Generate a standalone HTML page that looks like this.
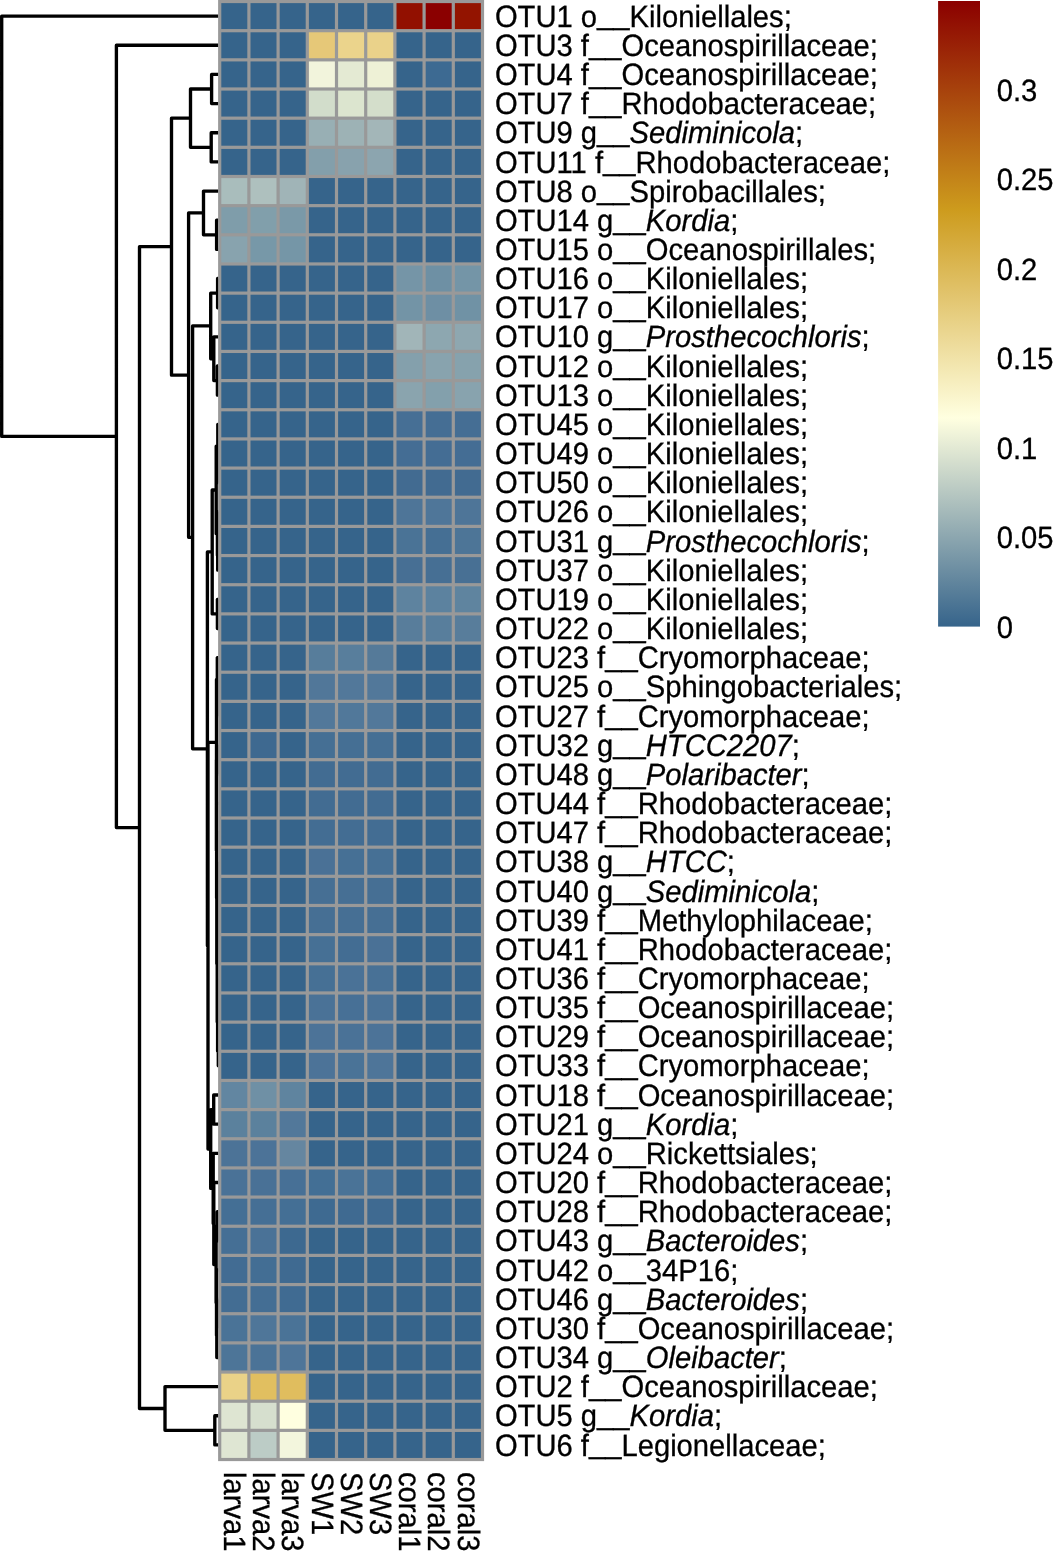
<!DOCTYPE html>
<html><head><meta charset="utf-8"><style>
html,body{margin:0;padding:0;background:#fff;}
body{width:1053px;height:1551px;overflow:hidden;position:relative;}
svg{position:absolute;left:0;top:0;will-change:transform;}
text{font-family:"Liberation Sans",sans-serif;font-size:29.20px;fill:#000;stroke:#000;stroke-width:0.3px;text-rendering:geometricPrecision;}
</style></head><body>
<svg width="1053" height="1551" viewBox="0 0 1053 1551">
<path d="M218.50 74.42H211.60V103.58H218.50M218.50 132.74H211.20V161.90H218.50M211.60 89.00H190.50V147.32H211.20M218.50 220.22H216.60V249.38H218.50M218.50 191.06H203.50V234.80H216.60M218.50 278.54H217.60V307.70H218.50M218.50 366.02H217.40V395.18H218.50M218.50 336.86H213.80V380.60H217.40M217.60 293.12H210.70V358.73H213.80M218.50 453.50H218.30V482.66H218.50M218.50 424.34H217.80V468.08H218.30M218.50 540.98H217.70V570.14H218.50M218.50 511.82H217.40V555.56H217.70M217.80 446.21H216.20V533.69H217.40M218.50 599.30H217.40V628.46H218.50M216.20 489.95H212.20V613.88H217.40M218.50 686.78H218.00V715.94H218.50M218.50 657.62H217.30V701.36H218.00M218.50 745.10H217.80V774.26H218.50M218.50 861.74H218.30V890.90H218.50M218.50 920.06H218.30V949.22H218.50M218.30 876.32H217.80V934.64H218.30M218.50 978.38H218.30V1007.54H218.50M218.50 1036.70H218.30V1065.86H218.50M218.30 992.96H217.60V1051.28H218.30M217.80 905.48H217.20V1022.12H217.60M218.50 832.58H216.80V963.80H217.20M218.50 803.42H216.60V898.19H216.80M217.80 759.68H216.40V850.81H216.60M217.30 679.49H216.50V805.24H216.40M218.50 1095.02H213.70V1124.18H218.50M218.50 1211.66H217.30V1240.82H218.50M218.50 1299.14H217.40V1328.30H218.50M217.40 1313.72H216.80V1357.46H218.50M218.50 1269.98H216.50V1335.59H216.80M217.30 1226.24H216.10V1302.79H216.50M218.50 1182.50H213.80V1264.51H216.10M218.50 1153.34H213.20V1223.51H213.80M213.70 1109.60H210.70V1188.42H213.20M216.50 742.37H208.00V1149.01H210.70M212.20 551.91H207.40V945.69H208.00M210.70 325.93H192.60V748.80H207.40M203.50 212.93H188.60V537.36H192.60M190.50 118.16H171.50V375.15H188.60M218.50 1415.78H214.80V1444.94H218.50M218.50 1386.62H165.00V1430.36H214.80M171.50 246.65H139.50V1408.49H165.00M218.50 45.26H116.40V827.57H139.50M218.50 16.10H1.70V436.42H116.40" fill="none" stroke="#000" stroke-width="3.35" stroke-linejoin="round" stroke-linecap="butt"/>
<rect x="218.10" y="-0.08" width="266.00" height="1461.20" fill="#999999"/>
<rect x="221.30" y="3.12" width="26.00" height="25.96" fill="#36648B"/><rect x="250.50" y="3.12" width="26.00" height="25.96" fill="#36648B"/><rect x="279.70" y="3.12" width="26.00" height="25.96" fill="#36648B"/><rect x="308.90" y="3.12" width="26.00" height="25.96" fill="#36648B"/><rect x="338.10" y="3.12" width="26.00" height="25.96" fill="#36648B"/><rect x="367.30" y="3.12" width="26.00" height="25.96" fill="#36648B"/><rect x="396.50" y="3.12" width="26.00" height="25.96" fill="#921000"/><rect x="425.70" y="3.12" width="26.00" height="25.96" fill="#8B0000"/><rect x="454.90" y="3.12" width="26.00" height="25.96" fill="#931400"/>
<rect x="221.30" y="32.28" width="26.00" height="25.96" fill="#36648B"/><rect x="250.50" y="32.28" width="26.00" height="25.96" fill="#36648B"/><rect x="279.70" y="32.28" width="26.00" height="25.96" fill="#36648B"/><rect x="308.90" y="32.28" width="26.00" height="25.96" fill="#E6C878"/><rect x="338.10" y="32.28" width="26.00" height="25.96" fill="#EBD48C"/><rect x="367.30" y="32.28" width="26.00" height="25.96" fill="#EAD28A"/><rect x="396.50" y="32.28" width="26.00" height="25.96" fill="#36648B"/><rect x="425.70" y="32.28" width="26.00" height="25.96" fill="#36648B"/><rect x="454.90" y="32.28" width="26.00" height="25.96" fill="#36648B"/>
<rect x="221.30" y="61.44" width="26.00" height="25.96" fill="#36648B"/><rect x="250.50" y="61.44" width="26.00" height="25.96" fill="#36648B"/><rect x="279.70" y="61.44" width="26.00" height="25.96" fill="#36648B"/><rect x="308.90" y="61.44" width="26.00" height="25.96" fill="#F2F4DC"/><rect x="338.10" y="61.44" width="26.00" height="25.96" fill="#E4EAD3"/><rect x="367.30" y="61.44" width="26.00" height="25.96" fill="#EEF1D6"/><rect x="396.50" y="61.44" width="26.00" height="25.96" fill="#36648B"/><rect x="425.70" y="61.44" width="26.00" height="25.96" fill="#3D6A92"/><rect x="454.90" y="61.44" width="26.00" height="25.96" fill="#36648B"/>
<rect x="221.30" y="90.60" width="26.00" height="25.96" fill="#36648B"/><rect x="250.50" y="90.60" width="26.00" height="25.96" fill="#36648B"/><rect x="279.70" y="90.60" width="26.00" height="25.96" fill="#36648B"/><rect x="308.90" y="90.60" width="26.00" height="25.96" fill="#D2DDCB"/><rect x="338.10" y="90.60" width="26.00" height="25.96" fill="#DCE5CF"/><rect x="367.30" y="90.60" width="26.00" height="25.96" fill="#D4DECB"/><rect x="396.50" y="90.60" width="26.00" height="25.96" fill="#36648B"/><rect x="425.70" y="90.60" width="26.00" height="25.96" fill="#36648B"/><rect x="454.90" y="90.60" width="26.00" height="25.96" fill="#36648B"/>
<rect x="221.30" y="119.76" width="26.00" height="25.96" fill="#36648B"/><rect x="250.50" y="119.76" width="26.00" height="25.96" fill="#36648B"/><rect x="279.70" y="119.76" width="26.00" height="25.96" fill="#36648B"/><rect x="308.90" y="119.76" width="26.00" height="25.96" fill="#98AFB4"/><rect x="338.10" y="119.76" width="26.00" height="25.96" fill="#9DB2B5"/><rect x="367.30" y="119.76" width="26.00" height="25.96" fill="#A3B6B8"/><rect x="396.50" y="119.76" width="26.00" height="25.96" fill="#36648B"/><rect x="425.70" y="119.76" width="26.00" height="25.96" fill="#36648B"/><rect x="454.90" y="119.76" width="26.00" height="25.96" fill="#36648B"/>
<rect x="221.30" y="148.92" width="26.00" height="25.96" fill="#36648B"/><rect x="250.50" y="148.92" width="26.00" height="25.96" fill="#36648B"/><rect x="279.70" y="148.92" width="26.00" height="25.96" fill="#36648B"/><rect x="308.90" y="148.92" width="26.00" height="25.96" fill="#839FAB"/><rect x="338.10" y="148.92" width="26.00" height="25.96" fill="#88A2AD"/><rect x="367.30" y="148.92" width="26.00" height="25.96" fill="#8CA5AF"/><rect x="396.50" y="148.92" width="26.00" height="25.96" fill="#36648B"/><rect x="425.70" y="148.92" width="26.00" height="25.96" fill="#36648B"/><rect x="454.90" y="148.92" width="26.00" height="25.96" fill="#36648B"/>
<rect x="221.30" y="178.08" width="26.00" height="25.96" fill="#A9BDBC"/><rect x="250.50" y="178.08" width="26.00" height="25.96" fill="#AEC0BE"/><rect x="279.70" y="178.08" width="26.00" height="25.96" fill="#A0B4B7"/><rect x="308.90" y="178.08" width="26.00" height="25.96" fill="#36648B"/><rect x="338.10" y="178.08" width="26.00" height="25.96" fill="#36648B"/><rect x="367.30" y="178.08" width="26.00" height="25.96" fill="#36648B"/><rect x="396.50" y="178.08" width="26.00" height="25.96" fill="#36648B"/><rect x="425.70" y="178.08" width="26.00" height="25.96" fill="#36648B"/><rect x="454.90" y="178.08" width="26.00" height="25.96" fill="#36648B"/>
<rect x="221.30" y="207.24" width="26.00" height="25.96" fill="#7F9DAA"/><rect x="250.50" y="207.24" width="26.00" height="25.96" fill="#819FAB"/><rect x="279.70" y="207.24" width="26.00" height="25.96" fill="#7A99A8"/><rect x="308.90" y="207.24" width="26.00" height="25.96" fill="#36648B"/><rect x="338.10" y="207.24" width="26.00" height="25.96" fill="#36648B"/><rect x="367.30" y="207.24" width="26.00" height="25.96" fill="#36648B"/><rect x="396.50" y="207.24" width="26.00" height="25.96" fill="#36648B"/><rect x="425.70" y="207.24" width="26.00" height="25.96" fill="#36648B"/><rect x="454.90" y="207.24" width="26.00" height="25.96" fill="#36648B"/>
<rect x="221.30" y="236.40" width="26.00" height="25.96" fill="#88A3AE"/><rect x="250.50" y="236.40" width="26.00" height="25.96" fill="#7798A8"/><rect x="279.70" y="236.40" width="26.00" height="25.96" fill="#7596A7"/><rect x="308.90" y="236.40" width="26.00" height="25.96" fill="#36648B"/><rect x="338.10" y="236.40" width="26.00" height="25.96" fill="#36648B"/><rect x="367.30" y="236.40" width="26.00" height="25.96" fill="#36648B"/><rect x="396.50" y="236.40" width="26.00" height="25.96" fill="#36648B"/><rect x="425.70" y="236.40" width="26.00" height="25.96" fill="#36648B"/><rect x="454.90" y="236.40" width="26.00" height="25.96" fill="#36648B"/>
<rect x="221.30" y="265.56" width="26.00" height="25.96" fill="#36648B"/><rect x="250.50" y="265.56" width="26.00" height="25.96" fill="#36648B"/><rect x="279.70" y="265.56" width="26.00" height="25.96" fill="#36648B"/><rect x="308.90" y="265.56" width="26.00" height="25.96" fill="#36648B"/><rect x="338.10" y="265.56" width="26.00" height="25.96" fill="#36648B"/><rect x="367.30" y="265.56" width="26.00" height="25.96" fill="#36648B"/><rect x="396.50" y="265.56" width="26.00" height="25.96" fill="#7595A7"/><rect x="425.70" y="265.56" width="26.00" height="25.96" fill="#6E90A4"/><rect x="454.90" y="265.56" width="26.00" height="25.96" fill="#7495A7"/>
<rect x="221.30" y="294.72" width="26.00" height="25.96" fill="#36648B"/><rect x="250.50" y="294.72" width="26.00" height="25.96" fill="#36648B"/><rect x="279.70" y="294.72" width="26.00" height="25.96" fill="#36648B"/><rect x="308.90" y="294.72" width="26.00" height="25.96" fill="#36648B"/><rect x="338.10" y="294.72" width="26.00" height="25.96" fill="#36648B"/><rect x="367.30" y="294.72" width="26.00" height="25.96" fill="#36648B"/><rect x="396.50" y="294.72" width="26.00" height="25.96" fill="#7394A6"/><rect x="425.70" y="294.72" width="26.00" height="25.96" fill="#6E8FA4"/><rect x="454.90" y="294.72" width="26.00" height="25.96" fill="#7092A5"/>
<rect x="221.30" y="323.88" width="26.00" height="25.96" fill="#36648B"/><rect x="250.50" y="323.88" width="26.00" height="25.96" fill="#36648B"/><rect x="279.70" y="323.88" width="26.00" height="25.96" fill="#36648B"/><rect x="308.90" y="323.88" width="26.00" height="25.96" fill="#36648B"/><rect x="338.10" y="323.88" width="26.00" height="25.96" fill="#36648B"/><rect x="367.30" y="323.88" width="26.00" height="25.96" fill="#36648B"/><rect x="396.50" y="323.88" width="26.00" height="25.96" fill="#A1B5B8"/><rect x="425.70" y="323.88" width="26.00" height="25.96" fill="#8DA7B0"/><rect x="454.90" y="323.88" width="26.00" height="25.96" fill="#8EA7B0"/>
<rect x="221.30" y="353.04" width="26.00" height="25.96" fill="#36648B"/><rect x="250.50" y="353.04" width="26.00" height="25.96" fill="#36648B"/><rect x="279.70" y="353.04" width="26.00" height="25.96" fill="#36648B"/><rect x="308.90" y="353.04" width="26.00" height="25.96" fill="#36648B"/><rect x="338.10" y="353.04" width="26.00" height="25.96" fill="#36648B"/><rect x="367.30" y="353.04" width="26.00" height="25.96" fill="#36648B"/><rect x="396.50" y="353.04" width="26.00" height="25.96" fill="#84A0AC"/><rect x="425.70" y="353.04" width="26.00" height="25.96" fill="#88A3AE"/><rect x="454.90" y="353.04" width="26.00" height="25.96" fill="#86A2AD"/>
<rect x="221.30" y="382.20" width="26.00" height="25.96" fill="#36648B"/><rect x="250.50" y="382.20" width="26.00" height="25.96" fill="#36648B"/><rect x="279.70" y="382.20" width="26.00" height="25.96" fill="#36648B"/><rect x="308.90" y="382.20" width="26.00" height="25.96" fill="#36648B"/><rect x="338.10" y="382.20" width="26.00" height="25.96" fill="#36648B"/><rect x="367.30" y="382.20" width="26.00" height="25.96" fill="#36648B"/><rect x="396.50" y="382.20" width="26.00" height="25.96" fill="#8AA4AE"/><rect x="425.70" y="382.20" width="26.00" height="25.96" fill="#83A0AC"/><rect x="454.90" y="382.20" width="26.00" height="25.96" fill="#88A3AE"/>
<rect x="221.30" y="411.36" width="26.00" height="25.96" fill="#36648B"/><rect x="250.50" y="411.36" width="26.00" height="25.96" fill="#36648B"/><rect x="279.70" y="411.36" width="26.00" height="25.96" fill="#36648B"/><rect x="308.90" y="411.36" width="26.00" height="25.96" fill="#36648B"/><rect x="338.10" y="411.36" width="26.00" height="25.96" fill="#36648B"/><rect x="367.30" y="411.36" width="26.00" height="25.96" fill="#36648B"/><rect x="396.50" y="411.36" width="26.00" height="25.96" fill="#466F95"/><rect x="425.70" y="411.36" width="26.00" height="25.96" fill="#456E94"/><rect x="454.90" y="411.36" width="26.00" height="25.96" fill="#456E94"/>
<rect x="221.30" y="440.52" width="26.00" height="25.96" fill="#36648B"/><rect x="250.50" y="440.52" width="26.00" height="25.96" fill="#36648B"/><rect x="279.70" y="440.52" width="26.00" height="25.96" fill="#36648B"/><rect x="308.90" y="440.52" width="26.00" height="25.96" fill="#36648B"/><rect x="338.10" y="440.52" width="26.00" height="25.96" fill="#36648B"/><rect x="367.30" y="440.52" width="26.00" height="25.96" fill="#36648B"/><rect x="396.50" y="440.52" width="26.00" height="25.96" fill="#446D94"/><rect x="425.70" y="440.52" width="26.00" height="25.96" fill="#446D94"/><rect x="454.90" y="440.52" width="26.00" height="25.96" fill="#446D94"/>
<rect x="221.30" y="469.68" width="26.00" height="25.96" fill="#36648B"/><rect x="250.50" y="469.68" width="26.00" height="25.96" fill="#36648B"/><rect x="279.70" y="469.68" width="26.00" height="25.96" fill="#36648B"/><rect x="308.90" y="469.68" width="26.00" height="25.96" fill="#36648B"/><rect x="338.10" y="469.68" width="26.00" height="25.96" fill="#36648B"/><rect x="367.30" y="469.68" width="26.00" height="25.96" fill="#36648B"/><rect x="396.50" y="469.68" width="26.00" height="25.96" fill="#426B91"/><rect x="425.70" y="469.68" width="26.00" height="25.96" fill="#426B91"/><rect x="454.90" y="469.68" width="26.00" height="25.96" fill="#426B91"/>
<rect x="221.30" y="498.84" width="26.00" height="25.96" fill="#36648B"/><rect x="250.50" y="498.84" width="26.00" height="25.96" fill="#36648B"/><rect x="279.70" y="498.84" width="26.00" height="25.96" fill="#36648B"/><rect x="308.90" y="498.84" width="26.00" height="25.96" fill="#36648B"/><rect x="338.10" y="498.84" width="26.00" height="25.96" fill="#36648B"/><rect x="367.30" y="498.84" width="26.00" height="25.96" fill="#36648B"/><rect x="396.50" y="498.84" width="26.00" height="25.96" fill="#4E7598"/><rect x="425.70" y="498.84" width="26.00" height="25.96" fill="#4F7699"/><rect x="454.90" y="498.84" width="26.00" height="25.96" fill="#4E7598"/>
<rect x="221.30" y="528.00" width="26.00" height="25.96" fill="#36648B"/><rect x="250.50" y="528.00" width="26.00" height="25.96" fill="#36648B"/><rect x="279.70" y="528.00" width="26.00" height="25.96" fill="#36648B"/><rect x="308.90" y="528.00" width="26.00" height="25.96" fill="#36648B"/><rect x="338.10" y="528.00" width="26.00" height="25.96" fill="#36648B"/><rect x="367.30" y="528.00" width="26.00" height="25.96" fill="#36648B"/><rect x="396.50" y="528.00" width="26.00" height="25.96" fill="#4A7396"/><rect x="425.70" y="528.00" width="26.00" height="25.96" fill="#456F94"/><rect x="454.90" y="528.00" width="26.00" height="25.96" fill="#4D7597"/>
<rect x="221.30" y="557.16" width="26.00" height="25.96" fill="#36648B"/><rect x="250.50" y="557.16" width="26.00" height="25.96" fill="#36648B"/><rect x="279.70" y="557.16" width="26.00" height="25.96" fill="#36648B"/><rect x="308.90" y="557.16" width="26.00" height="25.96" fill="#36648B"/><rect x="338.10" y="557.16" width="26.00" height="25.96" fill="#36648B"/><rect x="367.30" y="557.16" width="26.00" height="25.96" fill="#36648B"/><rect x="396.50" y="557.16" width="26.00" height="25.96" fill="#476F94"/><rect x="425.70" y="557.16" width="26.00" height="25.96" fill="#466F94"/><rect x="454.90" y="557.16" width="26.00" height="25.96" fill="#487094"/>
<rect x="221.30" y="586.32" width="26.00" height="25.96" fill="#36648B"/><rect x="250.50" y="586.32" width="26.00" height="25.96" fill="#36648B"/><rect x="279.70" y="586.32" width="26.00" height="25.96" fill="#36648B"/><rect x="308.90" y="586.32" width="26.00" height="25.96" fill="#36648B"/><rect x="338.10" y="586.32" width="26.00" height="25.96" fill="#36648B"/><rect x="367.30" y="586.32" width="26.00" height="25.96" fill="#36648B"/><rect x="396.50" y="586.32" width="26.00" height="25.96" fill="#5E839F"/><rect x="425.70" y="586.32" width="26.00" height="25.96" fill="#5C829F"/><rect x="454.90" y="586.32" width="26.00" height="25.96" fill="#5F849F"/>
<rect x="221.30" y="615.48" width="26.00" height="25.96" fill="#36648B"/><rect x="250.50" y="615.48" width="26.00" height="25.96" fill="#36648B"/><rect x="279.70" y="615.48" width="26.00" height="25.96" fill="#36648B"/><rect x="308.90" y="615.48" width="26.00" height="25.96" fill="#36648B"/><rect x="338.10" y="615.48" width="26.00" height="25.96" fill="#36648B"/><rect x="367.30" y="615.48" width="26.00" height="25.96" fill="#36648B"/><rect x="396.50" y="615.48" width="26.00" height="25.96" fill="#587D9B"/><rect x="425.70" y="615.48" width="26.00" height="25.96" fill="#587E9C"/><rect x="454.90" y="615.48" width="26.00" height="25.96" fill="#587D9B"/>
<rect x="221.30" y="644.64" width="26.00" height="25.96" fill="#36648B"/><rect x="250.50" y="644.64" width="26.00" height="25.96" fill="#36648B"/><rect x="279.70" y="644.64" width="26.00" height="25.96" fill="#36648B"/><rect x="308.90" y="644.64" width="26.00" height="25.96" fill="#577D9B"/><rect x="338.10" y="644.64" width="26.00" height="25.96" fill="#587E9C"/><rect x="367.30" y="644.64" width="26.00" height="25.96" fill="#557A99"/><rect x="396.50" y="644.64" width="26.00" height="25.96" fill="#36648B"/><rect x="425.70" y="644.64" width="26.00" height="25.96" fill="#36648B"/><rect x="454.90" y="644.64" width="26.00" height="25.96" fill="#36648B"/>
<rect x="221.30" y="673.80" width="26.00" height="25.96" fill="#36648B"/><rect x="250.50" y="673.80" width="26.00" height="25.96" fill="#36648B"/><rect x="279.70" y="673.80" width="26.00" height="25.96" fill="#36648B"/><rect x="308.90" y="673.80" width="26.00" height="25.96" fill="#517799"/><rect x="338.10" y="673.80" width="26.00" height="25.96" fill="#52789A"/><rect x="367.30" y="673.80" width="26.00" height="25.96" fill="#52789A"/><rect x="396.50" y="673.80" width="26.00" height="25.96" fill="#36648B"/><rect x="425.70" y="673.80" width="26.00" height="25.96" fill="#36648B"/><rect x="454.90" y="673.80" width="26.00" height="25.96" fill="#36648B"/>
<rect x="221.30" y="702.96" width="26.00" height="25.96" fill="#36648B"/><rect x="250.50" y="702.96" width="26.00" height="25.96" fill="#36648B"/><rect x="279.70" y="702.96" width="26.00" height="25.96" fill="#36648B"/><rect x="308.90" y="702.96" width="26.00" height="25.96" fill="#52789A"/><rect x="338.10" y="702.96" width="26.00" height="25.96" fill="#51789A"/><rect x="367.30" y="702.96" width="26.00" height="25.96" fill="#52789A"/><rect x="396.50" y="702.96" width="26.00" height="25.96" fill="#36648B"/><rect x="425.70" y="702.96" width="26.00" height="25.96" fill="#36648B"/><rect x="454.90" y="702.96" width="26.00" height="25.96" fill="#36648B"/>
<rect x="221.30" y="732.12" width="26.00" height="25.96" fill="#36648B"/><rect x="250.50" y="732.12" width="26.00" height="25.96" fill="#3E6990"/><rect x="279.70" y="732.12" width="26.00" height="25.96" fill="#36648B"/><rect x="308.90" y="732.12" width="26.00" height="25.96" fill="#456F94"/><rect x="338.10" y="732.12" width="26.00" height="25.96" fill="#456F94"/><rect x="367.30" y="732.12" width="26.00" height="25.96" fill="#456F94"/><rect x="396.50" y="732.12" width="26.00" height="25.96" fill="#36648B"/><rect x="425.70" y="732.12" width="26.00" height="25.96" fill="#36648B"/><rect x="454.90" y="732.12" width="26.00" height="25.96" fill="#36648B"/>
<rect x="221.30" y="761.28" width="26.00" height="25.96" fill="#36648B"/><rect x="250.50" y="761.28" width="26.00" height="25.96" fill="#36648B"/><rect x="279.70" y="761.28" width="26.00" height="25.96" fill="#36648B"/><rect x="308.90" y="761.28" width="26.00" height="25.96" fill="#426C92"/><rect x="338.10" y="761.28" width="26.00" height="25.96" fill="#426C92"/><rect x="367.30" y="761.28" width="26.00" height="25.96" fill="#426C92"/><rect x="396.50" y="761.28" width="26.00" height="25.96" fill="#36648B"/><rect x="425.70" y="761.28" width="26.00" height="25.96" fill="#36648B"/><rect x="454.90" y="761.28" width="26.00" height="25.96" fill="#36648B"/>
<rect x="221.30" y="790.44" width="26.00" height="25.96" fill="#36648B"/><rect x="250.50" y="790.44" width="26.00" height="25.96" fill="#36648B"/><rect x="279.70" y="790.44" width="26.00" height="25.96" fill="#36648B"/><rect x="308.90" y="790.44" width="26.00" height="25.96" fill="#426C92"/><rect x="338.10" y="790.44" width="26.00" height="25.96" fill="#426C92"/><rect x="367.30" y="790.44" width="26.00" height="25.96" fill="#426C92"/><rect x="396.50" y="790.44" width="26.00" height="25.96" fill="#36648B"/><rect x="425.70" y="790.44" width="26.00" height="25.96" fill="#36648B"/><rect x="454.90" y="790.44" width="26.00" height="25.96" fill="#36648B"/>
<rect x="221.30" y="819.60" width="26.00" height="25.96" fill="#36648B"/><rect x="250.50" y="819.60" width="26.00" height="25.96" fill="#36648B"/><rect x="279.70" y="819.60" width="26.00" height="25.96" fill="#36648B"/><rect x="308.90" y="819.60" width="26.00" height="25.96" fill="#436D93"/><rect x="338.10" y="819.60" width="26.00" height="25.96" fill="#436D93"/><rect x="367.30" y="819.60" width="26.00" height="25.96" fill="#436D93"/><rect x="396.50" y="819.60" width="26.00" height="25.96" fill="#36648B"/><rect x="425.70" y="819.60" width="26.00" height="25.96" fill="#36648B"/><rect x="454.90" y="819.60" width="26.00" height="25.96" fill="#36648B"/>
<rect x="221.30" y="848.76" width="26.00" height="25.96" fill="#36648B"/><rect x="250.50" y="848.76" width="26.00" height="25.96" fill="#36648B"/><rect x="279.70" y="848.76" width="26.00" height="25.96" fill="#36648B"/><rect x="308.90" y="848.76" width="26.00" height="25.96" fill="#4A7196"/><rect x="338.10" y="848.76" width="26.00" height="25.96" fill="#467095"/><rect x="367.30" y="848.76" width="26.00" height="25.96" fill="#467095"/><rect x="396.50" y="848.76" width="26.00" height="25.96" fill="#36648B"/><rect x="425.70" y="848.76" width="26.00" height="25.96" fill="#36648B"/><rect x="454.90" y="848.76" width="26.00" height="25.96" fill="#36648B"/>
<rect x="221.30" y="877.92" width="26.00" height="25.96" fill="#36648B"/><rect x="250.50" y="877.92" width="26.00" height="25.96" fill="#36648B"/><rect x="279.70" y="877.92" width="26.00" height="25.96" fill="#36648B"/><rect x="308.90" y="877.92" width="26.00" height="25.96" fill="#466F94"/><rect x="338.10" y="877.92" width="26.00" height="25.96" fill="#466F94"/><rect x="367.30" y="877.92" width="26.00" height="25.96" fill="#466F94"/><rect x="396.50" y="877.92" width="26.00" height="25.96" fill="#36648B"/><rect x="425.70" y="877.92" width="26.00" height="25.96" fill="#36648B"/><rect x="454.90" y="877.92" width="26.00" height="25.96" fill="#36648B"/>
<rect x="221.30" y="907.08" width="26.00" height="25.96" fill="#36648B"/><rect x="250.50" y="907.08" width="26.00" height="25.96" fill="#36648B"/><rect x="279.70" y="907.08" width="26.00" height="25.96" fill="#36648B"/><rect x="308.90" y="907.08" width="26.00" height="25.96" fill="#466F94"/><rect x="338.10" y="907.08" width="26.00" height="25.96" fill="#466F94"/><rect x="367.30" y="907.08" width="26.00" height="25.96" fill="#466F94"/><rect x="396.50" y="907.08" width="26.00" height="25.96" fill="#36648B"/><rect x="425.70" y="907.08" width="26.00" height="25.96" fill="#36648B"/><rect x="454.90" y="907.08" width="26.00" height="25.96" fill="#36648B"/>
<rect x="221.30" y="936.24" width="26.00" height="25.96" fill="#36648B"/><rect x="250.50" y="936.24" width="26.00" height="25.96" fill="#36648B"/><rect x="279.70" y="936.24" width="26.00" height="25.96" fill="#36648B"/><rect x="308.90" y="936.24" width="26.00" height="25.96" fill="#467095"/><rect x="338.10" y="936.24" width="26.00" height="25.96" fill="#436D93"/><rect x="367.30" y="936.24" width="26.00" height="25.96" fill="#4A7196"/><rect x="396.50" y="936.24" width="26.00" height="25.96" fill="#36648B"/><rect x="425.70" y="936.24" width="26.00" height="25.96" fill="#36648B"/><rect x="454.90" y="936.24" width="26.00" height="25.96" fill="#36648B"/>
<rect x="221.30" y="965.40" width="26.00" height="25.96" fill="#36648B"/><rect x="250.50" y="965.40" width="26.00" height="25.96" fill="#36648B"/><rect x="279.70" y="965.40" width="26.00" height="25.96" fill="#36648B"/><rect x="308.90" y="965.40" width="26.00" height="25.96" fill="#467095"/><rect x="338.10" y="965.40" width="26.00" height="25.96" fill="#4A7297"/><rect x="367.30" y="965.40" width="26.00" height="25.96" fill="#487196"/><rect x="396.50" y="965.40" width="26.00" height="25.96" fill="#36648B"/><rect x="425.70" y="965.40" width="26.00" height="25.96" fill="#36648B"/><rect x="454.90" y="965.40" width="26.00" height="25.96" fill="#36648B"/>
<rect x="221.30" y="994.56" width="26.00" height="25.96" fill="#36648B"/><rect x="250.50" y="994.56" width="26.00" height="25.96" fill="#36648B"/><rect x="279.70" y="994.56" width="26.00" height="25.96" fill="#36648B"/><rect x="308.90" y="994.56" width="26.00" height="25.96" fill="#4A7297"/><rect x="338.10" y="994.56" width="26.00" height="25.96" fill="#477096"/><rect x="367.30" y="994.56" width="26.00" height="25.96" fill="#4A7297"/><rect x="396.50" y="994.56" width="26.00" height="25.96" fill="#36648B"/><rect x="425.70" y="994.56" width="26.00" height="25.96" fill="#36648B"/><rect x="454.90" y="994.56" width="26.00" height="25.96" fill="#36648B"/>
<rect x="221.30" y="1023.72" width="26.00" height="25.96" fill="#36648B"/><rect x="250.50" y="1023.72" width="26.00" height="25.96" fill="#36648B"/><rect x="279.70" y="1023.72" width="26.00" height="25.96" fill="#36648B"/><rect x="308.90" y="1023.72" width="26.00" height="25.96" fill="#4C7398"/><rect x="338.10" y="1023.72" width="26.00" height="25.96" fill="#4A7297"/><rect x="367.30" y="1023.72" width="26.00" height="25.96" fill="#4C7398"/><rect x="396.50" y="1023.72" width="26.00" height="25.96" fill="#36648B"/><rect x="425.70" y="1023.72" width="26.00" height="25.96" fill="#36648B"/><rect x="454.90" y="1023.72" width="26.00" height="25.96" fill="#36648B"/>
<rect x="221.30" y="1052.88" width="26.00" height="25.96" fill="#36648B"/><rect x="250.50" y="1052.88" width="26.00" height="25.96" fill="#36648B"/><rect x="279.70" y="1052.88" width="26.00" height="25.96" fill="#36648B"/><rect x="308.90" y="1052.88" width="26.00" height="25.96" fill="#4C7398"/><rect x="338.10" y="1052.88" width="26.00" height="25.96" fill="#4A7397"/><rect x="367.30" y="1052.88" width="26.00" height="25.96" fill="#4E7599"/><rect x="396.50" y="1052.88" width="26.00" height="25.96" fill="#36648B"/><rect x="425.70" y="1052.88" width="26.00" height="25.96" fill="#36648B"/><rect x="454.90" y="1052.88" width="26.00" height="25.96" fill="#36648B"/>
<rect x="221.30" y="1082.04" width="26.00" height="25.96" fill="#6286A1"/><rect x="250.50" y="1082.04" width="26.00" height="25.96" fill="#6F90A5"/><rect x="279.70" y="1082.04" width="26.00" height="25.96" fill="#5F849F"/><rect x="308.90" y="1082.04" width="26.00" height="25.96" fill="#36648B"/><rect x="338.10" y="1082.04" width="26.00" height="25.96" fill="#36648B"/><rect x="367.30" y="1082.04" width="26.00" height="25.96" fill="#36648B"/><rect x="396.50" y="1082.04" width="26.00" height="25.96" fill="#36648B"/><rect x="425.70" y="1082.04" width="26.00" height="25.96" fill="#36648B"/><rect x="454.90" y="1082.04" width="26.00" height="25.96" fill="#36648B"/>
<rect x="221.30" y="1111.20" width="26.00" height="25.96" fill="#5B819D"/><rect x="250.50" y="1111.20" width="26.00" height="25.96" fill="#5B819D"/><rect x="279.70" y="1111.20" width="26.00" height="25.96" fill="#52789A"/><rect x="308.90" y="1111.20" width="26.00" height="25.96" fill="#36648B"/><rect x="338.10" y="1111.20" width="26.00" height="25.96" fill="#36648B"/><rect x="367.30" y="1111.20" width="26.00" height="25.96" fill="#36648B"/><rect x="396.50" y="1111.20" width="26.00" height="25.96" fill="#36648B"/><rect x="425.70" y="1111.20" width="26.00" height="25.96" fill="#36648B"/><rect x="454.90" y="1111.20" width="26.00" height="25.96" fill="#36648B"/>
<rect x="221.30" y="1140.36" width="26.00" height="25.96" fill="#4C7397"/><rect x="250.50" y="1140.36" width="26.00" height="25.96" fill="#4C7398"/><rect x="279.70" y="1140.36" width="26.00" height="25.96" fill="#6586A0"/><rect x="308.90" y="1140.36" width="26.00" height="25.96" fill="#36648B"/><rect x="338.10" y="1140.36" width="26.00" height="25.96" fill="#36648B"/><rect x="367.30" y="1140.36" width="26.00" height="25.96" fill="#36648B"/><rect x="396.50" y="1140.36" width="26.00" height="25.96" fill="#36648B"/><rect x="425.70" y="1140.36" width="26.00" height="25.96" fill="#36648B"/><rect x="454.90" y="1140.36" width="26.00" height="25.96" fill="#36648B"/>
<rect x="221.30" y="1169.52" width="26.00" height="25.96" fill="#4A7297"/><rect x="250.50" y="1169.52" width="26.00" height="25.96" fill="#497196"/><rect x="279.70" y="1169.52" width="26.00" height="25.96" fill="#477096"/><rect x="308.90" y="1169.52" width="26.00" height="25.96" fill="#436F95"/><rect x="338.10" y="1169.52" width="26.00" height="25.96" fill="#4A7397"/><rect x="367.30" y="1169.52" width="26.00" height="25.96" fill="#446F95"/><rect x="396.50" y="1169.52" width="26.00" height="25.96" fill="#36648B"/><rect x="425.70" y="1169.52" width="26.00" height="25.96" fill="#36648B"/><rect x="454.90" y="1169.52" width="26.00" height="25.96" fill="#36648B"/>
<rect x="221.30" y="1198.68" width="26.00" height="25.96" fill="#446F95"/><rect x="250.50" y="1198.68" width="26.00" height="25.96" fill="#456F95"/><rect x="279.70" y="1198.68" width="26.00" height="25.96" fill="#446F95"/><rect x="308.90" y="1198.68" width="26.00" height="25.96" fill="#3E6A91"/><rect x="338.10" y="1198.68" width="26.00" height="25.96" fill="#3F6A91"/><rect x="367.30" y="1198.68" width="26.00" height="25.96" fill="#3F6A91"/><rect x="396.50" y="1198.68" width="26.00" height="25.96" fill="#36648B"/><rect x="425.70" y="1198.68" width="26.00" height="25.96" fill="#36648B"/><rect x="454.90" y="1198.68" width="26.00" height="25.96" fill="#36648B"/>
<rect x="221.30" y="1227.84" width="26.00" height="25.96" fill="#456F95"/><rect x="250.50" y="1227.84" width="26.00" height="25.96" fill="#4A7297"/><rect x="279.70" y="1227.84" width="26.00" height="25.96" fill="#3D6990"/><rect x="308.90" y="1227.84" width="26.00" height="25.96" fill="#36648B"/><rect x="338.10" y="1227.84" width="26.00" height="25.96" fill="#36648B"/><rect x="367.30" y="1227.84" width="26.00" height="25.96" fill="#36648B"/><rect x="396.50" y="1227.84" width="26.00" height="25.96" fill="#36648B"/><rect x="425.70" y="1227.84" width="26.00" height="25.96" fill="#36648B"/><rect x="454.90" y="1227.84" width="26.00" height="25.96" fill="#36648B"/>
<rect x="221.30" y="1257.00" width="26.00" height="25.96" fill="#426C93"/><rect x="250.50" y="1257.00" width="26.00" height="25.96" fill="#436E94"/><rect x="279.70" y="1257.00" width="26.00" height="25.96" fill="#3F6A91"/><rect x="308.90" y="1257.00" width="26.00" height="25.96" fill="#36648B"/><rect x="338.10" y="1257.00" width="26.00" height="25.96" fill="#36648B"/><rect x="367.30" y="1257.00" width="26.00" height="25.96" fill="#36648B"/><rect x="396.50" y="1257.00" width="26.00" height="25.96" fill="#36648B"/><rect x="425.70" y="1257.00" width="26.00" height="25.96" fill="#36648B"/><rect x="454.90" y="1257.00" width="26.00" height="25.96" fill="#36648B"/>
<rect x="221.30" y="1286.16" width="26.00" height="25.96" fill="#436D93"/><rect x="250.50" y="1286.16" width="26.00" height="25.96" fill="#446E94"/><rect x="279.70" y="1286.16" width="26.00" height="25.96" fill="#406B92"/><rect x="308.90" y="1286.16" width="26.00" height="25.96" fill="#36648B"/><rect x="338.10" y="1286.16" width="26.00" height="25.96" fill="#36648B"/><rect x="367.30" y="1286.16" width="26.00" height="25.96" fill="#36648B"/><rect x="396.50" y="1286.16" width="26.00" height="25.96" fill="#36648B"/><rect x="425.70" y="1286.16" width="26.00" height="25.96" fill="#36648B"/><rect x="454.90" y="1286.16" width="26.00" height="25.96" fill="#36648B"/>
<rect x="221.30" y="1315.32" width="26.00" height="25.96" fill="#4A7397"/><rect x="250.50" y="1315.32" width="26.00" height="25.96" fill="#4F7699"/><rect x="279.70" y="1315.32" width="26.00" height="25.96" fill="#4A7397"/><rect x="308.90" y="1315.32" width="26.00" height="25.96" fill="#36648B"/><rect x="338.10" y="1315.32" width="26.00" height="25.96" fill="#36648B"/><rect x="367.30" y="1315.32" width="26.00" height="25.96" fill="#36648B"/><rect x="396.50" y="1315.32" width="26.00" height="25.96" fill="#36648B"/><rect x="425.70" y="1315.32" width="26.00" height="25.96" fill="#36648B"/><rect x="454.90" y="1315.32" width="26.00" height="25.96" fill="#36648B"/>
<rect x="221.30" y="1344.48" width="26.00" height="25.96" fill="#4D7598"/><rect x="250.50" y="1344.48" width="26.00" height="25.96" fill="#4B7397"/><rect x="279.70" y="1344.48" width="26.00" height="25.96" fill="#4E7599"/><rect x="308.90" y="1344.48" width="26.00" height="25.96" fill="#36648B"/><rect x="338.10" y="1344.48" width="26.00" height="25.96" fill="#36648B"/><rect x="367.30" y="1344.48" width="26.00" height="25.96" fill="#36648B"/><rect x="396.50" y="1344.48" width="26.00" height="25.96" fill="#36648B"/><rect x="425.70" y="1344.48" width="26.00" height="25.96" fill="#36648B"/><rect x="454.90" y="1344.48" width="26.00" height="25.96" fill="#36648B"/>
<rect x="221.30" y="1373.64" width="26.00" height="25.96" fill="#EAD288"/><rect x="250.50" y="1373.64" width="26.00" height="25.96" fill="#E1BF60"/><rect x="279.70" y="1373.64" width="26.00" height="25.96" fill="#E0BD5E"/><rect x="308.90" y="1373.64" width="26.00" height="25.96" fill="#36648B"/><rect x="338.10" y="1373.64" width="26.00" height="25.96" fill="#36648B"/><rect x="367.30" y="1373.64" width="26.00" height="25.96" fill="#36648B"/><rect x="396.50" y="1373.64" width="26.00" height="25.96" fill="#36648B"/><rect x="425.70" y="1373.64" width="26.00" height="25.96" fill="#36648B"/><rect x="454.90" y="1373.64" width="26.00" height="25.96" fill="#36648B"/>
<rect x="221.30" y="1402.80" width="26.00" height="25.96" fill="#DEE5D2"/><rect x="250.50" y="1402.80" width="26.00" height="25.96" fill="#D6DFCE"/><rect x="279.70" y="1402.80" width="26.00" height="25.96" fill="#FFFFE0"/><rect x="308.90" y="1402.80" width="26.00" height="25.96" fill="#36648B"/><rect x="338.10" y="1402.80" width="26.00" height="25.96" fill="#36648B"/><rect x="367.30" y="1402.80" width="26.00" height="25.96" fill="#36648B"/><rect x="396.50" y="1402.80" width="26.00" height="25.96" fill="#36648B"/><rect x="425.70" y="1402.80" width="26.00" height="25.96" fill="#36648B"/><rect x="454.90" y="1402.80" width="26.00" height="25.96" fill="#36648B"/>
<rect x="221.30" y="1431.96" width="26.00" height="25.96" fill="#DFE6D3"/><rect x="250.50" y="1431.96" width="26.00" height="25.96" fill="#BCCCC6"/><rect x="279.70" y="1431.96" width="26.00" height="25.96" fill="#F3F6DD"/><rect x="308.90" y="1431.96" width="26.00" height="25.96" fill="#36648B"/><rect x="338.10" y="1431.96" width="26.00" height="25.96" fill="#36648B"/><rect x="367.30" y="1431.96" width="26.00" height="25.96" fill="#36648B"/><rect x="396.50" y="1431.96" width="26.00" height="25.96" fill="#36648B"/><rect x="425.70" y="1431.96" width="26.00" height="25.96" fill="#36648B"/><rect x="454.90" y="1431.96" width="26.00" height="25.96" fill="#36648B"/>
<text transform="translate(494.9,26.70) scale(1,1.055)">OTU1 o<tspan dy="-2.1">__</tspan><tspan dy="2.1">Kiloniellales;</tspan></text>
<text transform="translate(494.9,55.86) scale(1,1.055)">OTU3 f<tspan dy="-2.1">__</tspan><tspan dy="2.1">Oceanospirillaceae;</tspan></text>
<text transform="translate(494.9,85.02) scale(1,1.055)">OTU4 f<tspan dy="-2.1">__</tspan><tspan dy="2.1">Oceanospirillaceae;</tspan></text>
<text transform="translate(494.9,114.18) scale(1,1.055)">OTU7 f<tspan dy="-2.1">__</tspan><tspan dy="2.1">Rhodobacteraceae;</tspan></text>
<text transform="translate(494.9,143.34) scale(1,1.055)">OTU9 g<tspan dy="-2.1">__</tspan><tspan dy="2.1" font-style="italic">Sediminicola</tspan>;</text>
<text transform="translate(494.9,172.50) scale(1,1.055)">OTU11 f<tspan dy="-2.1">__</tspan><tspan dy="2.1">Rhodobacteraceae;</tspan></text>
<text transform="translate(494.9,201.66) scale(1,1.055)">OTU8 o<tspan dy="-2.1">__</tspan><tspan dy="2.1">Spirobacillales;</tspan></text>
<text transform="translate(494.9,230.82) scale(1,1.055)">OTU14 g<tspan dy="-2.1">__</tspan><tspan dy="2.1" font-style="italic">Kordia</tspan>;</text>
<text transform="translate(494.9,259.98) scale(1,1.055)">OTU15 o<tspan dy="-2.1">__</tspan><tspan dy="2.1">Oceanospirillales;</tspan></text>
<text transform="translate(494.9,289.14) scale(1,1.055)">OTU16 o<tspan dy="-2.1">__</tspan><tspan dy="2.1">Kiloniellales;</tspan></text>
<text transform="translate(494.9,318.30) scale(1,1.055)">OTU17 o<tspan dy="-2.1">__</tspan><tspan dy="2.1">Kiloniellales;</tspan></text>
<text transform="translate(494.9,347.46) scale(1,1.055)">OTU10 g<tspan dy="-2.1">__</tspan><tspan dy="2.1" font-style="italic">Prosthecochloris</tspan>;</text>
<text transform="translate(494.9,376.62) scale(1,1.055)">OTU12 o<tspan dy="-2.1">__</tspan><tspan dy="2.1">Kiloniellales;</tspan></text>
<text transform="translate(494.9,405.78) scale(1,1.055)">OTU13 o<tspan dy="-2.1">__</tspan><tspan dy="2.1">Kiloniellales;</tspan></text>
<text transform="translate(494.9,434.94) scale(1,1.055)">OTU45 o<tspan dy="-2.1">__</tspan><tspan dy="2.1">Kiloniellales;</tspan></text>
<text transform="translate(494.9,464.10) scale(1,1.055)">OTU49 o<tspan dy="-2.1">__</tspan><tspan dy="2.1">Kiloniellales;</tspan></text>
<text transform="translate(494.9,493.26) scale(1,1.055)">OTU50 o<tspan dy="-2.1">__</tspan><tspan dy="2.1">Kiloniellales;</tspan></text>
<text transform="translate(494.9,522.42) scale(1,1.055)">OTU26 o<tspan dy="-2.1">__</tspan><tspan dy="2.1">Kiloniellales;</tspan></text>
<text transform="translate(494.9,551.58) scale(1,1.055)">OTU31 g<tspan dy="-2.1">__</tspan><tspan dy="2.1" font-style="italic">Prosthecochloris</tspan>;</text>
<text transform="translate(494.9,580.74) scale(1,1.055)">OTU37 o<tspan dy="-2.1">__</tspan><tspan dy="2.1">Kiloniellales;</tspan></text>
<text transform="translate(494.9,609.90) scale(1,1.055)">OTU19 o<tspan dy="-2.1">__</tspan><tspan dy="2.1">Kiloniellales;</tspan></text>
<text transform="translate(494.9,639.06) scale(1,1.055)">OTU22 o<tspan dy="-2.1">__</tspan><tspan dy="2.1">Kiloniellales;</tspan></text>
<text transform="translate(494.9,668.22) scale(1,1.055)">OTU23 f<tspan dy="-2.1">__</tspan><tspan dy="2.1">Cryomorphaceae;</tspan></text>
<text transform="translate(494.9,697.38) scale(1,1.055)">OTU25 o<tspan dy="-2.1">__</tspan><tspan dy="2.1">Sphingobacteriales;</tspan></text>
<text transform="translate(494.9,726.54) scale(1,1.055)">OTU27 f<tspan dy="-2.1">__</tspan><tspan dy="2.1">Cryomorphaceae;</tspan></text>
<text transform="translate(494.9,755.70) scale(1,1.055)">OTU32 g<tspan dy="-2.1">__</tspan><tspan dy="2.1" font-style="italic">HTCC2207</tspan>;</text>
<text transform="translate(494.9,784.86) scale(1,1.055)">OTU48 g<tspan dy="-2.1">__</tspan><tspan dy="2.1" font-style="italic">Polaribacter</tspan>;</text>
<text transform="translate(494.9,814.02) scale(1,1.055)">OTU44 f<tspan dy="-2.1">__</tspan><tspan dy="2.1">Rhodobacteraceae;</tspan></text>
<text transform="translate(494.9,843.18) scale(1,1.055)">OTU47 f<tspan dy="-2.1">__</tspan><tspan dy="2.1">Rhodobacteraceae;</tspan></text>
<text transform="translate(494.9,872.34) scale(1,1.055)">OTU38 g<tspan dy="-2.1">__</tspan><tspan dy="2.1" font-style="italic">HTCC</tspan>;</text>
<text transform="translate(494.9,901.50) scale(1,1.055)">OTU40 g<tspan dy="-2.1">__</tspan><tspan dy="2.1" font-style="italic">Sediminicola</tspan>;</text>
<text transform="translate(494.9,930.66) scale(1,1.055)">OTU39 f<tspan dy="-2.1">__</tspan><tspan dy="2.1">Methylophilaceae;</tspan></text>
<text transform="translate(494.9,959.82) scale(1,1.055)">OTU41 f<tspan dy="-2.1">__</tspan><tspan dy="2.1">Rhodobacteraceae;</tspan></text>
<text transform="translate(494.9,988.98) scale(1,1.055)">OTU36 f<tspan dy="-2.1">__</tspan><tspan dy="2.1">Cryomorphaceae;</tspan></text>
<text transform="translate(494.9,1018.14) scale(1,1.055)">OTU35 f<tspan dy="-2.1">__</tspan><tspan dy="2.1">Oceanospirillaceae;</tspan></text>
<text transform="translate(494.9,1047.30) scale(1,1.055)">OTU29 f<tspan dy="-2.1">__</tspan><tspan dy="2.1">Oceanospirillaceae;</tspan></text>
<text transform="translate(494.9,1076.46) scale(1,1.055)">OTU33 f<tspan dy="-2.1">__</tspan><tspan dy="2.1">Cryomorphaceae;</tspan></text>
<text transform="translate(494.9,1105.62) scale(1,1.055)">OTU18 f<tspan dy="-2.1">__</tspan><tspan dy="2.1">Oceanospirillaceae;</tspan></text>
<text transform="translate(494.9,1134.78) scale(1,1.055)">OTU21 g<tspan dy="-2.1">__</tspan><tspan dy="2.1" font-style="italic">Kordia</tspan>;</text>
<text transform="translate(494.9,1163.94) scale(1,1.055)">OTU24 o<tspan dy="-2.1">__</tspan><tspan dy="2.1">Rickettsiales;</tspan></text>
<text transform="translate(494.9,1193.10) scale(1,1.055)">OTU20 f<tspan dy="-2.1">__</tspan><tspan dy="2.1">Rhodobacteraceae;</tspan></text>
<text transform="translate(494.9,1222.26) scale(1,1.055)">OTU28 f<tspan dy="-2.1">__</tspan><tspan dy="2.1">Rhodobacteraceae;</tspan></text>
<text transform="translate(494.9,1251.42) scale(1,1.055)">OTU43 g<tspan dy="-2.1">__</tspan><tspan dy="2.1" font-style="italic">Bacteroides</tspan>;</text>
<text transform="translate(494.9,1280.58) scale(1,1.055)">OTU42 o<tspan dy="-2.1">__</tspan><tspan dy="2.1">34P16;</tspan></text>
<text transform="translate(494.9,1309.74) scale(1,1.055)">OTU46 g<tspan dy="-2.1">__</tspan><tspan dy="2.1" font-style="italic">Bacteroides</tspan>;</text>
<text transform="translate(494.9,1338.90) scale(1,1.055)">OTU30 f<tspan dy="-2.1">__</tspan><tspan dy="2.1">Oceanospirillaceae;</tspan></text>
<text transform="translate(494.9,1368.06) scale(1,1.055)">OTU34 g<tspan dy="-2.1">__</tspan><tspan dy="2.1" font-style="italic">Oleibacter</tspan>;</text>
<text transform="translate(494.9,1397.22) scale(1,1.055)">OTU2 f<tspan dy="-2.1">__</tspan><tspan dy="2.1">Oceanospirillaceae;</tspan></text>
<text transform="translate(494.9,1426.38) scale(1,1.055)">OTU5 g<tspan dy="-2.1">__</tspan><tspan dy="2.1" font-style="italic">Kordia</tspan>;</text>
<text transform="translate(494.9,1455.54) scale(1,1.055)">OTU6 f<tspan dy="-2.1">__</tspan><tspan dy="2.1">Legionellaceae;</tspan></text>
<text transform="translate(224.00,1472.0) rotate(90) scale(1,1.055)">larva1</text>
<text transform="translate(253.20,1472.0) rotate(90) scale(1,1.055)">larva2</text>
<text transform="translate(282.40,1472.0) rotate(90) scale(1,1.055)">larva3</text>
<text transform="translate(311.60,1472.0) rotate(90) scale(1,1.055)">SW1</text>
<text transform="translate(340.80,1472.0) rotate(90) scale(1,1.055)">SW2</text>
<text transform="translate(370.00,1472.0) rotate(90) scale(1,1.055)">SW3</text>
<text transform="translate(399.20,1472.0) rotate(90) scale(1,1.055)">coral1</text>
<text transform="translate(428.40,1472.0) rotate(90) scale(1,1.055)">coral2</text>
<text transform="translate(457.60,1472.0) rotate(90) scale(1,1.055)">coral3</text>
<defs><linearGradient id="lg" x1="0" y1="1" x2="0" y2="0">
<stop offset="0" stop-color="#36648B"/><stop offset="0.3333" stop-color="#FFFFE0"/>
<stop offset="0.6667" stop-color="#CD9B1D"/><stop offset="1" stop-color="#8B0000"/></linearGradient></defs>
<rect x="938.1" y="1.0" width="41.9" height="625.6" fill="url(#lg)"/>
<text transform="translate(996.7,637.50) scale(1,1.055)">0</text>
<text transform="translate(996.7,548.00) scale(1,1.055)">0.05</text>
<text transform="translate(996.7,458.50) scale(1,1.055)">0.1</text>
<text transform="translate(996.7,369.00) scale(1,1.055)">0.15</text>
<text transform="translate(996.7,279.50) scale(1,1.055)">0.2</text>
<text transform="translate(996.7,190.00) scale(1,1.055)">0.25</text>
<text transform="translate(996.7,100.50) scale(1,1.055)">0.3</text>
</svg>
</body></html>
